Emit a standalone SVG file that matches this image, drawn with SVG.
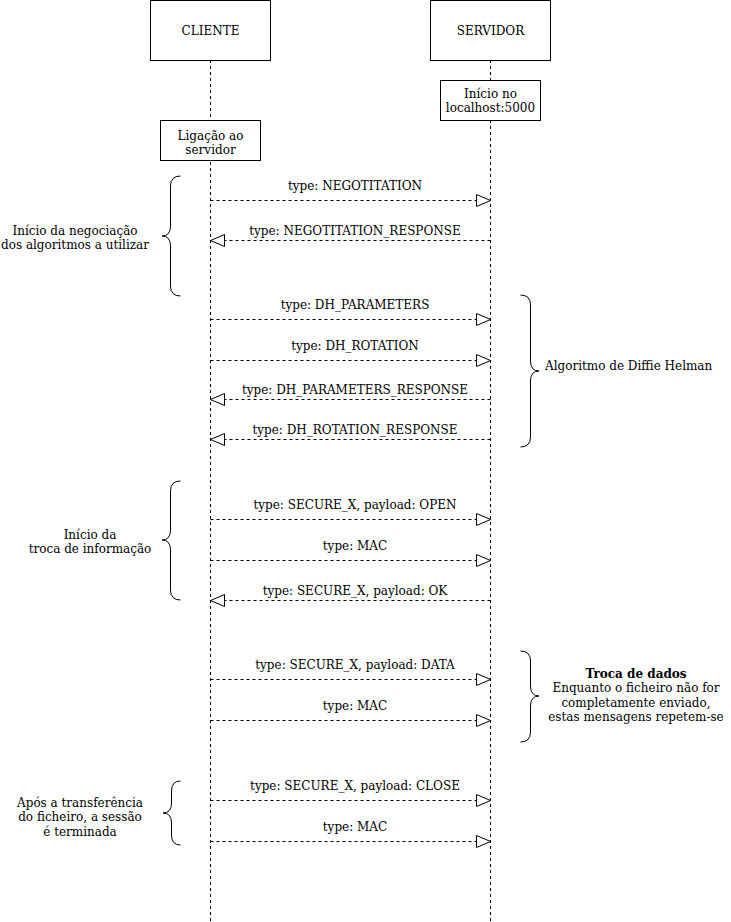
<svg xmlns="http://www.w3.org/2000/svg" width="731" height="922" viewBox="0 0 731 922">
<style>
text{font-family:"DejaVu Serif","Liberation Serif",serif;font-size:12px;fill:#000}
.c{text-anchor:middle}
.b{font-weight:bold}
.box{fill:#fff;stroke:#000;stroke-width:1}
.life{stroke:#000;stroke-width:1;stroke-dasharray:3 3;fill:none}
.msg{stroke:#000;stroke-width:1;stroke-dasharray:3 3;fill:none}
.brace{fill:none;stroke:#000;stroke-width:1}
</style>
<defs>
<marker id="ah" viewBox="0 0 16 14" refX="15" refY="7" markerWidth="16" markerHeight="14" markerUnits="userSpaceOnUse" orient="auto">
<path d="M1,1 L15,7 L1,13 Z" fill="#fff" stroke="#000" stroke-width="1" stroke-dasharray="none"/>
</marker>
</defs>
<rect width="731" height="922" fill="#fff"/>
<g id="lifelines">
<line class="life" x1="210.5" y1="60" x2="210.5" y2="922"/>
<line class="life" x1="490.5" y1="60" x2="490.5" y2="922"/>
</g>
<g id="cliente"><rect class="box" x="150.5" y="0.5" width="120" height="60"/><text class="c" x="210.5" y="35">CLIENTE</text></g>
<g id="servidor"><rect class="box" x="430.5" y="0.5" width="120" height="60"/><text class="c" x="490.5" y="35">SERVIDOR</text></g>
<g id="inicio-servidor"><rect class="box" x="440.5" y="80.5" width="100" height="40"/><text class="c" x="490.5" y="98">Início no</text><text class="c" x="490.5" y="112">localhost:5000</text></g>
<g id="ligacao"><rect class="box" x="160.5" y="120.5" width="100" height="40"/><text class="c" x="210.5" y="140">Ligação ao</text><text class="c" x="210.5" y="154">servidor</text></g>
<g id="connectors">
<line class="msg" x1="210.5" y1="200.5" x2="490.5" y2="200.5" marker-end="url(#ah)"/>
<line class="msg" x1="490.5" y1="240.5" x2="210.5" y2="240.5" marker-end="url(#ah)"/>
<line class="msg" x1="210.5" y1="319.5" x2="490.5" y2="319.5" marker-end="url(#ah)"/>
<line class="msg" x1="210.5" y1="360.5" x2="490.5" y2="360.5" marker-end="url(#ah)"/>
<line class="msg" x1="490.5" y1="399.5" x2="210.5" y2="399.5" marker-end="url(#ah)"/>
<line class="msg" x1="490.5" y1="439.5" x2="210.5" y2="439.5" marker-end="url(#ah)"/>
<line class="msg" x1="210.5" y1="519.5" x2="490.5" y2="519.5" marker-end="url(#ah)"/>
<line class="msg" x1="210.5" y1="560.5" x2="490.5" y2="560.5" marker-end="url(#ah)"/>
<line class="msg" x1="490.5" y1="600.5" x2="210.5" y2="600.5" marker-end="url(#ah)"/>
<line class="msg" x1="210.5" y1="679.5" x2="490.5" y2="679.5" marker-end="url(#ah)"/>
<line class="msg" x1="210.5" y1="720.5" x2="490.5" y2="720.5" marker-end="url(#ah)"/>
<line class="msg" x1="210.5" y1="800.5" x2="490.5" y2="800.5" marker-end="url(#ah)"/>
<line class="msg" x1="210.5" y1="841.5" x2="490.5" y2="841.5" marker-end="url(#ah)"/>
<text class="c" x="355" y="190">type: NEGOTITATION</text>
<text class="c" x="355" y="235">type: NEGOTITATION_RESPONSE</text>
<text class="c" x="355" y="309">type: DH_PARAMETERS</text>
<text class="c" x="355" y="350">type: DH_ROTATION</text>
<text class="c" x="355" y="394">type: DH_PARAMETERS_RESPONSE</text>
<text class="c" x="355" y="434">type: DH_ROTATION_RESPONSE</text>
<text class="c" x="355" y="509">type: SECURE_X, payload: OPEN</text>
<text class="c" x="355" y="550">type: MAC</text>
<text class="c" x="355" y="595">type: SECURE_X, payload: OK</text>
<text class="c" x="355" y="669">type: SECURE_X, payload: DATA</text>
<text class="c" x="355" y="710">type: MAC</text>
<text class="c" x="355" y="790">type: SECURE_X, payload: CLOSE</text>
<text class="c" x="355" y="831">type: MAC</text>
</g>
<g id="brace-negociacao">
<path class="brace" d="M180.5,176 Q170.5,176 170.5,186 L170.5,226 Q170.5,236 162,236 Q170.5,236 170.5,246 L170.5,286 Q170.5,296 180.5,296"/>
<text class="c" x="75" y="235">Início da negociação</text>
<text class="c" x="75" y="249">dos algoritmos a utilizar</text>
</g>
<g id="brace-dh">
<path class="brace" d="M520.5,295 Q530.5,295 530.5,305 L530.5,361 Q530.5,371 539,371 Q530.5,371 530.5,381 L530.5,437 Q530.5,447 520.5,447"/>
<text x="545" y="370">Algoritmo de Diffie Helman</text>
</g>
<g id="brace-troca">
<path class="brace" d="M180.5,481 Q170.5,481 170.5,491 L170.5,530 Q170.5,540 162,540 Q170.5,540 170.5,550 L170.5,590 Q170.5,600 180.5,600"/>
<text class="c" x="90" y="539">Início da</text>
<text class="c" x="90" y="553">troca de informação</text>
</g>
<g id="brace-dados">
<path class="brace" d="M520.5,651 Q530.5,651 530.5,661 L530.5,686 Q530.5,696 539,696 Q530.5,696 530.5,706 L530.5,732 Q530.5,742 520.5,742"/>
<text class="c b" x="636" y="678">Troca de dados</text>
<text class="c" x="636" y="692">Enquanto o ficheiro não for</text>
<text class="c" x="636" y="707">completamente enviado,</text>
<text class="c" x="636" y="721">estas mensagens repetem-se</text>
</g>
<g id="brace-fim">
<path class="brace" d="M180.5,781 Q171.5,781 171.5,791 L171.5,803 Q171.5,813 163,813 Q171.5,813 171.5,823 L171.5,835 Q171.5,845 180.5,845"/>
<text class="c" x="80" y="807">Após a transferência</text>
<text class="c" x="80" y="821">do ficheiro, a sessão</text>
<text class="c" x="80" y="836">é terminada</text>
</g>
</svg>
